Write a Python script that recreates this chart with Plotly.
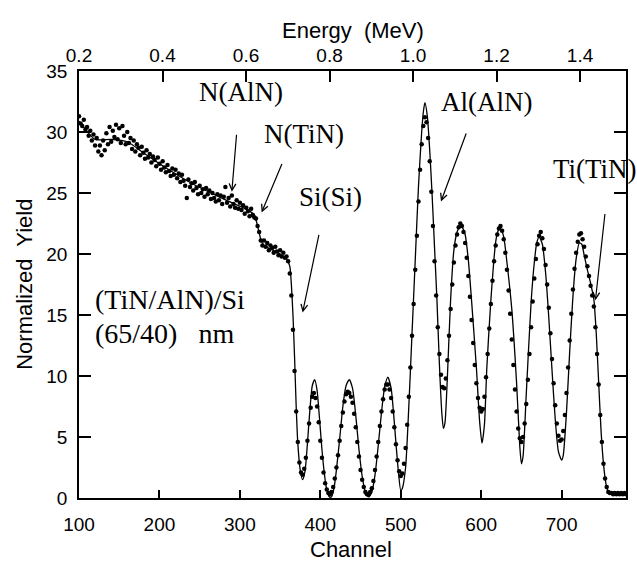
import plotly.graph_objects as go

# Measured RBS spectrum: channel grid (every 2nd channel) and normalized yield
meas_channel = list(range(100, 781, 2))
meas_yield = [
    31.3, 30.7, 30.5, 31.0, 30.2, 30.4, 29.7, 30.1, 29.3, 29.8,
    28.9, 29.5, 28.4, 28.9, 28.1, 29.3, 28.5, 29.9, 29.0, 30.4,
    29.2, 30.1, 29.6, 30.6, 29.4, 30.3, 29.1, 30.5, 29.7, 29.0,
    30.0, 29.1, 29.5, 28.6, 29.3, 28.4, 29.0, 28.7, 28.1, 28.8,
    28.3, 27.8, 28.5, 27.9, 28.2, 27.5, 28.0, 27.7, 27.2, 27.9,
    27.4, 26.9, 27.6, 27.1, 26.7, 27.3, 26.8, 26.4, 27.0, 26.5,
    26.9, 26.2, 26.6, 25.9, 26.5, 26.0, 25.6, 24.6, 26.1, 25.5,
    25.8, 25.2, 25.9, 25.4, 24.9, 25.6, 25.0, 25.3, 24.7, 25.4,
    24.9, 25.2, 24.5, 25.0, 24.6, 24.3, 24.9, 24.4, 24.8, 24.1,
    24.7, 25.5, 24.2, 24.6, 23.9, 24.8, 24.1, 23.8, 24.4, 23.7,
    24.2, 23.6, 24.0, 23.3, 23.8, 23.5, 23.1, 23.7, 23.2, 23.0,
    22.9, 22.3, 21.8, 21.1, 20.7, 21.1, 20.6, 20.9, 20.3, 20.7,
    20.5, 20.1, 20.6, 20.2, 19.9, 20.3, 19.8, 20.1, 19.7, 19.8,
    19.4,
    18.4, 16.6, 13.8, 10.4, 7.1, 4.6, 2.9, 2.1, 1.9, 2.4,
    3.3, 4.7, 6.1, 7.4, 8.3, 8.6, 8.2, 7.5, 6.2, 4.7,
    3.3, 2.1, 1.2, 0.7, 0.4, 0.3, 0.5, 0.9, 1.6, 2.5,
    3.5, 4.7, 5.9, 7.0, 7.9, 8.5, 8.7, 8.6, 8.3, 7.8,
    6.9, 5.8, 4.6, 3.4, 2.3, 1.5, 0.9, 0.5, 0.3, 0.3,
    0.5, 0.8, 1.4, 2.3, 3.4, 4.6, 5.9, 7.1, 8.1, 8.9,
    9.3, 9.3, 8.9, 8.2, 7.1, 5.8, 4.4, 3.1, 2.2, 1.8,
    2.0, 2.8, 4.1, 6.0, 8.3, 10.7, 13.3, 15.9, 18.7, 21.5,
    24.3, 26.9, 29.0, 30.5, 31.2, 30.8, 29.5, 27.6, 25.1, 22.3,
    19.4, 16.6, 14.0, 11.8, 10.1, 9.1, 9.0, 9.8, 11.3, 13.3,
    15.5, 17.5, 19.3, 20.7, 21.6, 22.2, 22.5, 22.3, 21.8, 20.9,
    19.7, 18.2, 16.5, 14.6, 12.7, 10.9, 9.4, 8.2, 7.4, 7.1,
    7.3, 8.3, 9.9, 11.8, 13.9, 15.9, 17.8, 19.4, 20.7, 21.6,
    22.1, 22.3, 21.9, 21.2, 20.1, 18.7, 17.0, 15.1, 13.0, 10.9,
    8.9, 7.1, 5.7, 4.9, 4.6, 5.0, 6.1, 7.7, 9.7, 11.8,
    14.0, 16.1, 18.0, 19.6, 20.8, 21.5, 21.8, 21.3, 20.4, 19.1,
    17.5, 15.6, 13.5, 11.4, 9.4, 7.6, 6.1, 5.1, 4.7, 4.8,
    5.5, 6.8, 8.6, 10.7, 12.9, 15.1, 17.1, 18.8, 20.1, 21.0,
    21.6, 21.7, 21.2, 20.6, 19.8, 19.0, 18.2, 17.4, 16.6, 15.7,
    14.0, 11.8, 9.3, 6.8, 4.6, 2.8, 1.6, 0.9, 0.5, 0.4,
    0.4, 0.3, 0.4, 0.3, 0.4, 0.3, 0.4, 0.3, 0.4, 0.3,
]

# Simulated spectrum (solid curve)
sim_channel = [
    100, 120, 140, 160, 180, 200, 240, 280, 310, 318, 322, 326, 330, 345, 358, 362,
    364, 366, 368, 370, 372, 375, 378, 381, 384, 387, 390, 393, 396, 399,
    402, 405, 408, 411, 414, 417, 420, 424, 428, 432, 436, 440, 444, 448,
    452, 456, 460, 464, 468, 472, 476, 480, 484, 488, 491, 494, 497, 500,
    502, 506, 510, 514, 518, 522, 526, 528, 530, 533, 536, 539, 542, 545,
    548, 551, 553, 555, 558, 562, 566, 570, 573, 576, 580, 584, 588, 594,
    598, 601, 604, 607, 612, 618, 621, 624, 628, 632, 638, 644, 648, 650,
    652, 656, 662, 666, 669, 672, 676, 680, 684, 688, 692, 696, 700, 702,
    706, 710, 714, 718, 722, 725, 728, 732, 736, 740, 743, 746, 749, 752,
    755, 758, 762, 780,
]
sim_yield = [
    30.9, 29.4, 29.4, 29.2, 28.3, 27.4, 25.8, 24.5, 23.6, 23.2, 22.3, 21.2, 20.7, 20.2, 19.6, 19.0,
    17.5, 15.0, 11.5, 7.5, 4.5, 2.3, 1.5, 2.2, 4.5, 7.2, 9.2, 9.7, 8.8, 6.5,
    4.0, 2.0, 0.7, 0.1, 0.1, 0.8, 2.3, 4.8, 7.5, 9.2, 9.7, 9.0, 6.8, 4.0,
    1.8, 0.5, 0.1, 0.5, 1.9, 4.3, 7.0, 9.1, 9.9, 9.0, 7.0, 4.5, 2.2, 0.6,
    0.8, 2.5, 7.5, 13.5, 19.5, 25.5, 30.0, 31.6, 32.4, 31.3, 28.5, 24.8, 20.5, 16.2,
    11.0, 7.0, 5.7, 6.2, 10.0, 16.3, 20.3, 21.8, 22.2, 22.2, 21.6, 19.5, 16.2, 10.7,
    6.3, 4.5, 6.0, 10.7, 16.2, 21.0, 21.9, 22.1, 21.4, 19.3, 15.5, 9.4, 4.2, 2.8,
    3.4, 8.5, 16.0, 19.3, 20.9, 21.4, 20.8, 18.5, 14.8, 10.5, 6.5, 3.8, 3.1, 3.5,
    7.0, 12.0, 16.5, 19.6, 20.9, 20.8, 19.9, 18.7, 17.6, 16.3, 13.5, 9.5, 5.5, 2.8,
    1.2, 0.5, 0.3, 0.3,
]

# Energy scale on the top axis
energy_ticks = [0.2, 0.4, 0.6, 0.8, 1.0, 1.2, 1.4]
energy_range = [0.2, 1.51]
channel_ticks = [100, 200, 300, 400, 500, 600, 700]
yield_ticks = [0, 5, 10, 15, 20, 25, 30, 35]

# Peak labels: (text, label x, label y, arrow tail x, tail y, arrow tip x, tip y)
peak_labels = [
    ("N(AlN)", 302, 33.3, 296, 29.9, 290, 25.1),
    ("N(TiN)", 380, 29.8, 353, 27.5, 327, 23.4),
    ("Si(Si)", 413, 24.7, 398.6, 21.7, 378, 15.2),
    ("Al(AlN)", 606, 32.5, 582, 30.0, 550, 24.3),
    ("Ti(TiN)", 742, 27.0, 754, 23.4, 742, 16.2),
]
sample_lines = ["(TiN/AlN)/Si", "(65/40)\u00a0\u00a0\u00a0nm"]
sample_pos = [(117, 16.3), (117, 13.5)]

SANS = "Liberation Sans"
SERIF = "Liberation Serif"

fig = go.Figure()
fig.add_trace(go.Scatter(
    x=sim_channel, y=sim_yield, mode="lines",
    line=dict(color="black", width=1.3, shape="spline", smoothing=0.6),
    hoverinfo="skip", showlegend=False,
))
fig.add_trace(go.Scatter(
    x=meas_channel, y=meas_yield, mode="markers",
    marker=dict(color="black", size=4.5),
    showlegend=False,
))
# carrier trace for the energy axis
fig.add_trace(go.Scatter(
    x=energy_range, y=[0, 0], xaxis="x2", mode="markers",
    marker=dict(opacity=0), hoverinfo="skip", showlegend=False,
))

title_font = dict(family=SANS, size=22, color="black")

annotations = []
for text, lx, ly, tx, ty, px, py in peak_labels:
    annotations.append(dict(
        x=lx, y=ly, xref="x", yref="y", text=text, showarrow=False,
        font=dict(family=SERIF, size=27, color="black"),
    ))
    annotations.append(dict(
        x=px, y=py, xref="x", yref="y", ax=tx, ay=ty, axref="x", ayref="y",
        text="", showarrow=True, arrowhead=5, arrowsize=1.1, arrowwidth=1.2,
        arrowcolor="black",
    ))
for text, (sx, sy) in zip(sample_lines, sample_pos):
    annotations.append(dict(
        x=sx, y=sy, xref="x", yref="y", text=text, showarrow=False,
        xanchor="left", font=dict(family=SERIF, size=28, color="black"),
    ))
# axis titles, placed in paper coordinates
annotations += [
    dict(x=0.501, y=1.095, xref="paper", yref="paper", text="Energy  (MeV)",
         showarrow=False, xanchor="center", yanchor="middle", font=title_font),
    dict(x=0.497, y=-0.121, xref="paper", yref="paper", text="Channel",
         showarrow=False, xanchor="center", yanchor="middle", font=title_font),
    dict(x=-0.100, y=0.5, xref="paper", yref="paper", text="Normalized  Yield",
         textangle=-90, showarrow=False, xanchor="center", yanchor="middle",
         font=title_font),
]

axis_common = dict(
    showline=True, linecolor="black", linewidth=1.5, showgrid=False,
    zeroline=False, ticks="inside", tickcolor="black", tickwidth=1.5,
    tickfont=dict(family=SANS, size=19, color="black"),
)

fig.update_layout(
    width=637, height=564,
    margin=dict(l=79, r=9, t=71, b=66),
    paper_bgcolor="white", plot_bgcolor="white",
    xaxis=dict(
        range=[100, 780], tickvals=channel_ticks, ticklen=8,
        ticklabelstandoff=8, **axis_common,
    ),
    xaxis2=dict(
        overlaying="x", side="top", range=energy_range,
        tickvals=energy_ticks, tickformat=".1f", ticklen=11,
        ticklabelstandoff=0, **axis_common,
    ),
    yaxis=dict(
        range=[0, 35], tickvals=yield_ticks, ticklen=12, mirror="ticks",
        ticklabelstandoff=6, **axis_common,
    ),
    annotations=annotations,
)

fig.write_html("out.html")
